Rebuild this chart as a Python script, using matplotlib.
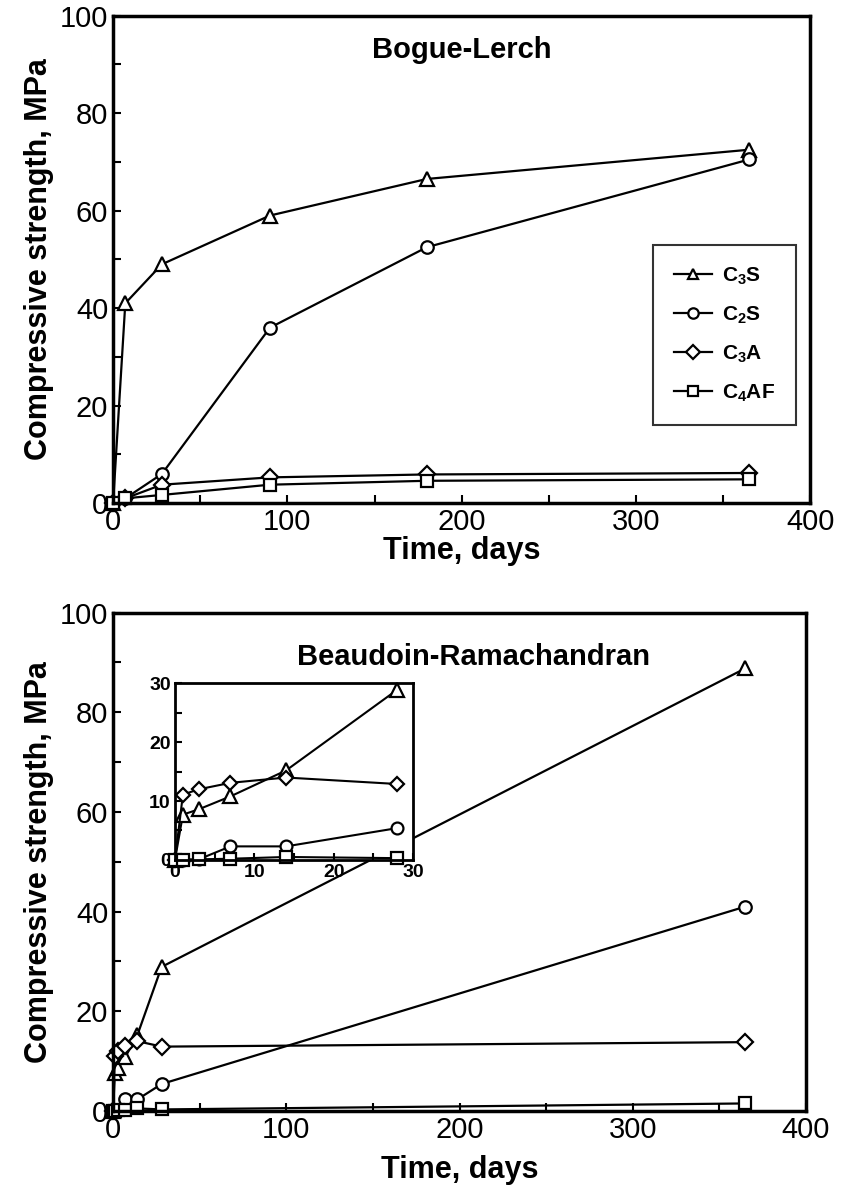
import matplotlib as mpl
mpl.use('Agg')
import matplotlib.pyplot as plt
import numpy as np

plt.rcParams['font.family'] = ['Liberation Sans', 'DejaVu Sans']
plt.rcParams['mathtext.fontset'] = 'custom'
plt.rcParams['mathtext.rm'] = 'Liberation Sans:bold'
plt.rcParams['mathtext.default'] = 'rm'

# Bogue-Lerch data
bl_days = [0, 7, 28, 90, 180, 365]
bl_c3s = [0, 41, 49, 59, 66.5, 72.5]
bl_c2s = [0, 1, 6, 36, 52.5, 70.5]
bl_c3a = [0, 1, 3.8, 5.3, 5.9, 6.2]
bl_c4af = [0, 1, 1.7, 3.8, 4.6, 4.9]

# Beaudoin-Ramachandran data
br_days = [0, 1, 3, 7, 14, 28, 365]
br_c3s = [0, 7.7, 8.6, 10.8, 15.2, 28.9, 88.8]
br_c2s = [0, 0, 0.1, 2.3, 2.3, 5.4, 41]
br_c3a = [0, 11.1, 12.0, 13.1, 14.0, 12.9, 13.8]
br_c4af = [0, 0, 0.1, 0.2, 0.5, 0.3, 1.5]

labels = ['C$_3$S', 'C$_2$S', 'C$_3$A', 'C$_4$AF']
markers = ['^', 'o', 'D', 's']
msizes = [10, 9, 8, 8.5]


def style_axes(ax, xmaj, xmin, ymaj, ymin, lsize, lw_spine):
    for s in ax.spines.values():
        s.set_linewidth(lw_spine)
    ax.set_xticks(np.arange(0, xmin[1] + 0.1, xmin[0]), minor=True)
    ax.set_xticks(np.arange(0, xmaj[1] + 0.1, xmaj[0]))
    ax.set_yticks(np.arange(0, ymin[1] + 0.1, ymin[0]), minor=True)
    ax.set_yticks(np.arange(0, ymaj[1] + 0.1, ymaj[0]))
    ax.tick_params(which='both', direction='in', top=False, right=False,
                   length=6, width=1.5, labelsize=lsize)


def draw(ax, days, series, ms_scale=1.0, lw=1.6):
    for vals, m, ms, lab in zip(series, markers, msizes, labels):
        ax.plot(days, vals, color='black', lw=lw, marker=m, ms=ms * ms_scale,
                mfc='white', mec='black', mew=1.6, label=lab, clip_on=False)


fig = plt.figure(figsize=(8.44, 12.01), dpi=100)

# top panel
ax1 = fig.add_axes([0.134, 0.581, 0.826, 0.406])
draw(ax1, bl_days, [bl_c3s, bl_c2s, bl_c3a, bl_c4af])
ax1.set_xlim(0, 400)
ax1.set_ylim(0, 100)
style_axes(ax1, (100, 400), (50, 400), (20, 100), (10, 100), 21, 2.5)
ax1.set_xlabel('Time, days', fontsize=22, fontweight='bold', labelpad=0)
ax1.set_ylabel('Compressive strength, MPa', fontsize=22, fontweight='bold', labelpad=4)
ax1.text(0.5, 0.93, 'Bogue-Lerch', transform=ax1.transAxes, ha='center', va='center',
         fontsize=21, fontweight='bold')
leg = ax1.legend(loc='upper left', bbox_to_anchor=(0.775, 0.53),
                 prop={'size': 15, 'weight': 'bold'},
                 frameon=True, fancybox=False, edgecolor='black', handlelength=1.8,
                 labelspacing=0.85, borderpad=1.0, handletextpad=0.5, borderaxespad=0)
leg.get_frame().set_linewidth(1.5)
for h in leg.legend_handles:
    h.set_markersize(7.5)

# bottom panel
ax2 = fig.add_axes([0.134, 0.075, 0.821, 0.415])
draw(ax2, br_days, [br_c3s, br_c2s, br_c3a, br_c4af])
ax2.set_xlim(0, 400)
ax2.set_ylim(0, 100)
style_axes(ax2, (100, 400), (50, 400), (20, 100), (10, 100), 21, 2.5)
ax2.set_xlabel('Time, days', fontsize=22, fontweight='bold', labelpad=8)
ax2.set_ylabel('Compressive strength, MPa', fontsize=22, fontweight='bold', labelpad=4)
ax2.text(0.52, 0.91, 'Beaudoin-Ramachandran', transform=ax2.transAxes, ha='center',
         va='center', fontsize=21, fontweight='bold')

# inset
ax3 = fig.add_axes([0.2073, 0.284, 0.282, 0.147])
draw(ax3, br_days[:-1], [s[:-1] for s in [br_c3s, br_c2s, br_c3a, br_c4af]],
     ms_scale=0.95, lw=1.5)
ax3.set_xlim(0, 30)
ax3.set_ylim(0, 30)
style_axes(ax3, (10, 30), (5, 30), (10, 30), (5, 30), 14, 2)
for t in ax3.get_xticklabels() + ax3.get_yticklabels():
    t.set_fontweight('bold')
ax3.tick_params(which='both', length=5, pad=3)

fig.savefig('out.png', dpi=100)
